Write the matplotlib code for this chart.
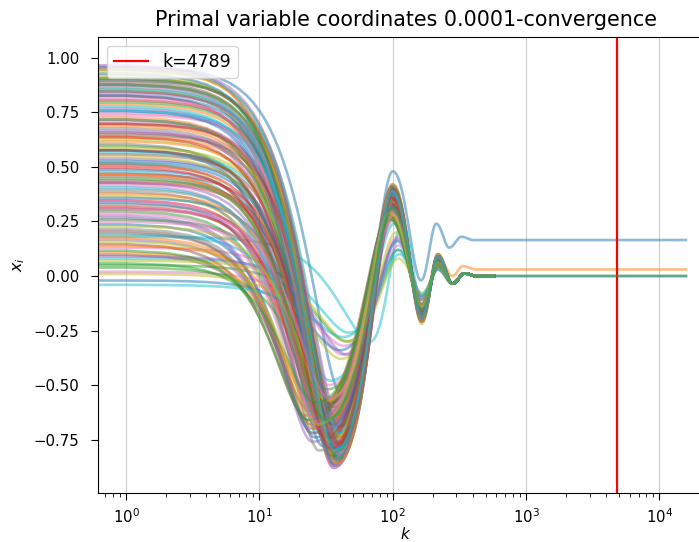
import numpy as np
import matplotlib.pyplot as plt

# start value, trough position/value, peak position/value, 2nd trough, 2nd peak
X0 = [0.96, 0.62, 0.45, 0.81, 0.27, 0.70, 0.13, 0.88, 0.52, 0.18,
      0.34, 0.91, 0.05, 0.58, 0.77, 0.21, 0.66, 0.40, 0.94, 0.08,
      0.49, 0.73, 0.30, 0.85, 0.17, 0.56, 0.02, 0.68, 0.37, 0.90,
      0.24, 0.79, 0.60, 0.43, 0.97, 0.15, 0.71, 0.33, 0.86, 0.48,
      -0.02, 0.64, 0.26, 0.83, 0.54, 0.10, 0.75, 0.39, 0.92, 0.19,
      0.58, 0.69, 0.04, 0.47, 0.87, 0.31, 0.74, 0.22, 0.63, 0.95,
      0.36, 0.11, 0.80, 0.51, 0.28, 0.89, 0.42, 0.66, 0.07, 0.57,
      0.93, 0.18, 0.72, 0.35, 0.84, 0.46, 0.25, 0.61, 0.01, 0.78,
      0.53, 0.14, 0.88, 0.32, 0.67, 0.44, 0.82, 0.20, 0.59, -0.04,
      0.76, 0.38, 0.91, 0.50, 0.09, 0.65, 0.29, 0.85, 0.55, 0.41,
      0.83, 0.47, 0.12, 0.70, 0.96, 0.58, 0.35, 0.88, 0.23, 0.76,
      0.52, 0.95, 0.06, 0.64, 0.43, 0.90, 0.31, 0.72, 0.16, 0.86]
KT = [42, 36, 31, 38, 24, 40, 42, 37, 29, 68,
      27, 39, 45, 34, 36, 23, 41, 30, 40, 47,
      33, 34, 26, 38, 25, 37, 43, 35, 29, 41,
      26, 37, 32, 35, 36, 22, 39, 31, 35, 30,
      40, 38, 32, 34, 36, 24, 40, 27, 38, 34,
      30, 36, 33, 37, 36, 30, 42, 24, 35, 39,
      34, 25, 39, 33, 25, 37, 28, 37, 46, 39,
      37, 26, 34, 29, 40, 33, 33, 28, 41, 36,
      36, 31, 39, 28, 33, 36, 36, 25, 38, 42,
      35, 32, 38, 31, 45, 40, 26, 36, 34, 29,
      37, 30, 23, 38, 40, 33, 27, 36, 32, 39,
      35, 38, 26, 34, 31, 40, 33, 36, 27, 37]
TR = [-0.55, -0.70, -0.66, -0.84, -0.70, -0.76, -0.36, -0.80, -0.72, -0.30,
      -0.68, -0.78, -0.30, -0.75, -0.86, -0.66, -0.68, -0.64, -0.74, -0.26,
      -0.70, -0.80, -0.62, -0.85, -0.72, -0.66, -0.32, -0.83, -0.63, -0.72,
      -0.74, -0.78, -0.77, -0.62, -0.88, -0.64, -0.73, -0.58, -0.86, -0.73,
      -0.34, -0.71, -0.52, -0.82, -0.79, -0.62, -0.80, -0.69, -0.83, -0.48,
      -0.78, -0.75, -0.56, -0.65, -0.87, -0.60, -0.70, -0.68, -0.81, -0.79,
      -0.58, -0.60, -0.84, -0.67, -0.76, -0.76, -0.70, -0.84, -0.30, -0.69,
      -0.87, -0.70, -0.82, -0.66, -0.78, -0.72, -0.50, -0.80, -0.38, -0.85,
      -0.64, -0.58, -0.83, -0.62, -0.78, -0.60, -0.88, -0.72, -0.73, -0.28,
      -0.83, -0.66, -0.80, -0.74, -0.36, -0.69, -0.66, -0.86, -0.76, -0.68,
      -0.79, -0.70, -0.66, -0.77, -0.82, -0.74, -0.67, -0.84, -0.57, -0.72,
      -0.68, -0.86, -0.58, -0.79, -0.71, -0.77, -0.56, -0.81, -0.68, -0.80]
KP = [100, 98, 99, 97, 94, 100, 108, 99, 96, 118,
      95, 101, 110, 99, 98, 93, 101, 98, 100, 112,
      97, 96, 96, 100, 94, 102, 110, 98, 97, 101,
      95, 99, 97, 100, 99, 92, 100, 99, 97, 97,
      108, 100, 100, 96, 101, 94, 99, 96, 100, 102,
      97, 99, 99, 102, 98, 98, 102, 94, 98, 100,
      100, 95, 99, 99, 94, 100, 96, 99, 110, 101,
      98, 95, 97, 97, 101, 99, 101, 95, 106, 98,
      102, 99, 100, 96, 98, 101, 97, 94, 100, 110,
      98, 99, 99, 98, 108, 101, 95, 98, 99, 97,
      99, 97, 93, 100, 100, 98, 95, 99, 99, 101,
      100, 99, 95, 98, 97, 101, 101, 99, 95, 99]
PK = [0.48, 0.34, 0.31, 0.40, 0.30, 0.37, 0.18, 0.39, 0.33, 0.24,
      0.31, 0.41, 0.12, 0.34, 0.38, 0.28, 0.35, 0.31, 0.42, 0.10,
      0.33, 0.37, 0.29, 0.40, 0.30, 0.34, 0.14, 0.37, 0.30, 0.39,
      0.31, 0.39, 0.35, 0.31, 0.41, 0.27, 0.36, 0.29, 0.40, 0.32,
      0.16, 0.35, 0.26, 0.39, 0.34, 0.28, 0.38, 0.31, 0.41, 0.24,
      0.35, 0.36, 0.27, 0.32, 0.40, 0.29, 0.36, 0.30, 0.36, 0.42,
      0.30, 0.27, 0.39, 0.33, 0.31, 0.40, 0.32, 0.36, 0.08, 0.33,
      0.41, 0.30, 0.37, 0.30, 0.39, 0.33, 0.26, 0.36, 0.20, 0.38,
      0.32, 0.28, 0.40, 0.29, 0.36, 0.31, 0.39, 0.31, 0.34, 0.12,
      0.38, 0.30, 0.41, 0.33, 0.17, 0.35, 0.29, 0.40, 0.34, 0.31,
      0.39, 0.32, 0.28, 0.37, 0.41, 0.34, 0.30, 0.40, 0.28, 0.37,
      0.32, 0.42, 0.26, 0.36, 0.31, 0.40, 0.28, 0.38, 0.29, 0.39]
T2 = [-0.02, -0.13, -0.15, -0.19, -0.15, -0.18, -0.11, -0.19, -0.16, -0.14,
      -0.15, -0.20, -0.09, -0.17, -0.18, -0.14, -0.17, -0.15, -0.20, -0.08,
      -0.16, -0.18, -0.15, -0.19, -0.15, -0.17, -0.09, -0.18, -0.15, -0.19,
      -0.15, -0.19, -0.17, -0.15, -0.21, -0.14, -0.17, -0.14, -0.19, -0.16,
      -0.10, -0.17, -0.13, -0.19, -0.17, -0.14, -0.18, -0.15, -0.22, -0.13,
      -0.17, -0.18, -0.14, -0.16, -0.20, -0.14, -0.17, -0.15, -0.18, -0.20,
      -0.15, -0.13, -0.19, -0.16, -0.15, -0.19, -0.16, -0.18, -0.08, -0.16,
      -0.21, -0.15, -0.18, -0.15, -0.19, -0.16, -0.13, -0.17, -0.11, -0.18,
      -0.16, -0.14, -0.20, -0.14, -0.18, -0.15, -0.19, -0.15, -0.17, -0.09,
      -0.18, -0.15, -0.20, -0.16, -0.11, -0.17, -0.14, -0.19, -0.17, -0.15,
      -0.19, -0.16, -0.14, -0.18, -0.20, -0.17, -0.15, -0.19, -0.14, -0.18,
      -0.16, -0.21, -0.13, -0.18, -0.15, -0.19, -0.14, -0.18, -0.14, -0.19]
P2 = [0.24, 0.09, 0.06, 0.09, 0.06, 0.08, 0.04, 0.09, 0.07, 0.05,
      0.06, 0.09, 0.03, 0.07, 0.08, 0.06, 0.07, 0.06, 0.10, 0.03,
      0.07, 0.08, 0.06, 0.09, 0.06, 0.07, 0.03, 0.08, 0.06, 0.09,
      0.06, 0.08, 0.07, 0.06, 0.10, 0.05, 0.08, 0.06, 0.09, 0.07,
      0.04, 0.07, 0.05, 0.09, 0.07, 0.06, 0.08, 0.06, 0.10, 0.05,
      0.07, 0.08, 0.06, 0.07, 0.09, 0.06, 0.08, 0.06, 0.08, 0.10,
      0.06, 0.05, 0.09, 0.07, 0.06, 0.09, 0.07, 0.08, 0.03, 0.07,
      0.09, 0.06, 0.08, 0.06, 0.09, 0.07, 0.05, 0.08, 0.04, 0.08,
      0.07, 0.06, 0.09, 0.06, 0.08, 0.06, 0.09, 0.06, 0.07, 0.03,
      0.08, 0.06, 0.09, 0.07, 0.04, 0.07, 0.06, 0.09, 0.07, 0.06,
      0.09, 0.07, 0.06, 0.08, 0.09, 0.07, 0.06, 0.09, 0.06, 0.08,
      0.07, 0.10, 0.05, 0.08, 0.06, 0.09, 0.06, 0.08, 0.06, 0.09]

TAIL_K = [165, 218, 280, 345, 420]
TAIL_X = [-0.035, 0.012, 0.0]           # 3rd trough, 3rd peak, limit
# coordinates tracked to the end, with their own late tails
LONG_IDX = [0, 1, 2, 10]
LONG_TAIL_K = {0: [163, 212, 265, 327, 400], 1: [165, 218, 280, 335, 420]}
LONG_TAIL_X = {0: [0.13, 0.18, 0.165], 1: [0.0, 0.045, 0.03]}
K_SHORT = 575
K_LONG = 15849
K_STOP = 4789


def build_curve(knots, vals, k_end):
    k = np.arange(k_end + 1)
    y = np.empty(len(k))
    for j in range(len(knots) - 1):
        a, b = knots[j], knots[j + 1]
        m = (k >= a) & (k <= b)
        u = (k[m] - a) / (b - a)
        y[m] = vals[j] + (vals[j + 1] - vals[j]) * (1 - np.cos(np.pi * u)) / 2
    return k, y


fig = plt.figure(figsize=(6.99, 5.42), dpi=100)
ax = fig.add_axes([98 / 699, 49 / 542, 616 / 699, 456 / 542])

for i in range(len(X0)):
    tk = LONG_TAIL_K.get(i, TAIL_K)
    tx = LONG_TAIL_X.get(i, TAIL_X)
    k_end = K_LONG if i in LONG_IDX else K_SHORT
    knots = [0, KT[i], KP[i]] + tk + [k_end]
    vals = [X0[i], TR[i], PK[i], T2[i], P2[i]] + tx + [tx[-1]]
    k, y = build_curve(knots, vals, k_end)
    ax.plot(k, y, color=f'C{i % 10}', alpha=0.5, lw=1.9,
            zorder=2.5 if i == 2 else 2)

ax.axvline(K_STOP, color='red', lw=1.6, label=f'k={K_STOP}')
ax.set_xscale('log')
ax.set_xlim(10 ** -0.21, 10 ** 4.41)
ax.set_ylim(-0.995, 1.096)
ax.grid(axis='x', alpha=0.6)
ax.tick_params(which='major', labelsize=10.7, length=5.3, pad=5.3)
ax.tick_params(axis='y', pad=8)
ax.tick_params(which='minor', length=3)
ax.set_xlabel('$k$', fontsize=11, labelpad=0)
ax.set_ylabel('$x_i$', fontsize=11.5, labelpad=5)
ax.set_title('Primal variable coordinates 0.0001-convergence', fontsize=14.9, pad=8)
ax.legend(loc='upper left', fontsize=12.5)

fig.savefig('out.png', dpi=100)
